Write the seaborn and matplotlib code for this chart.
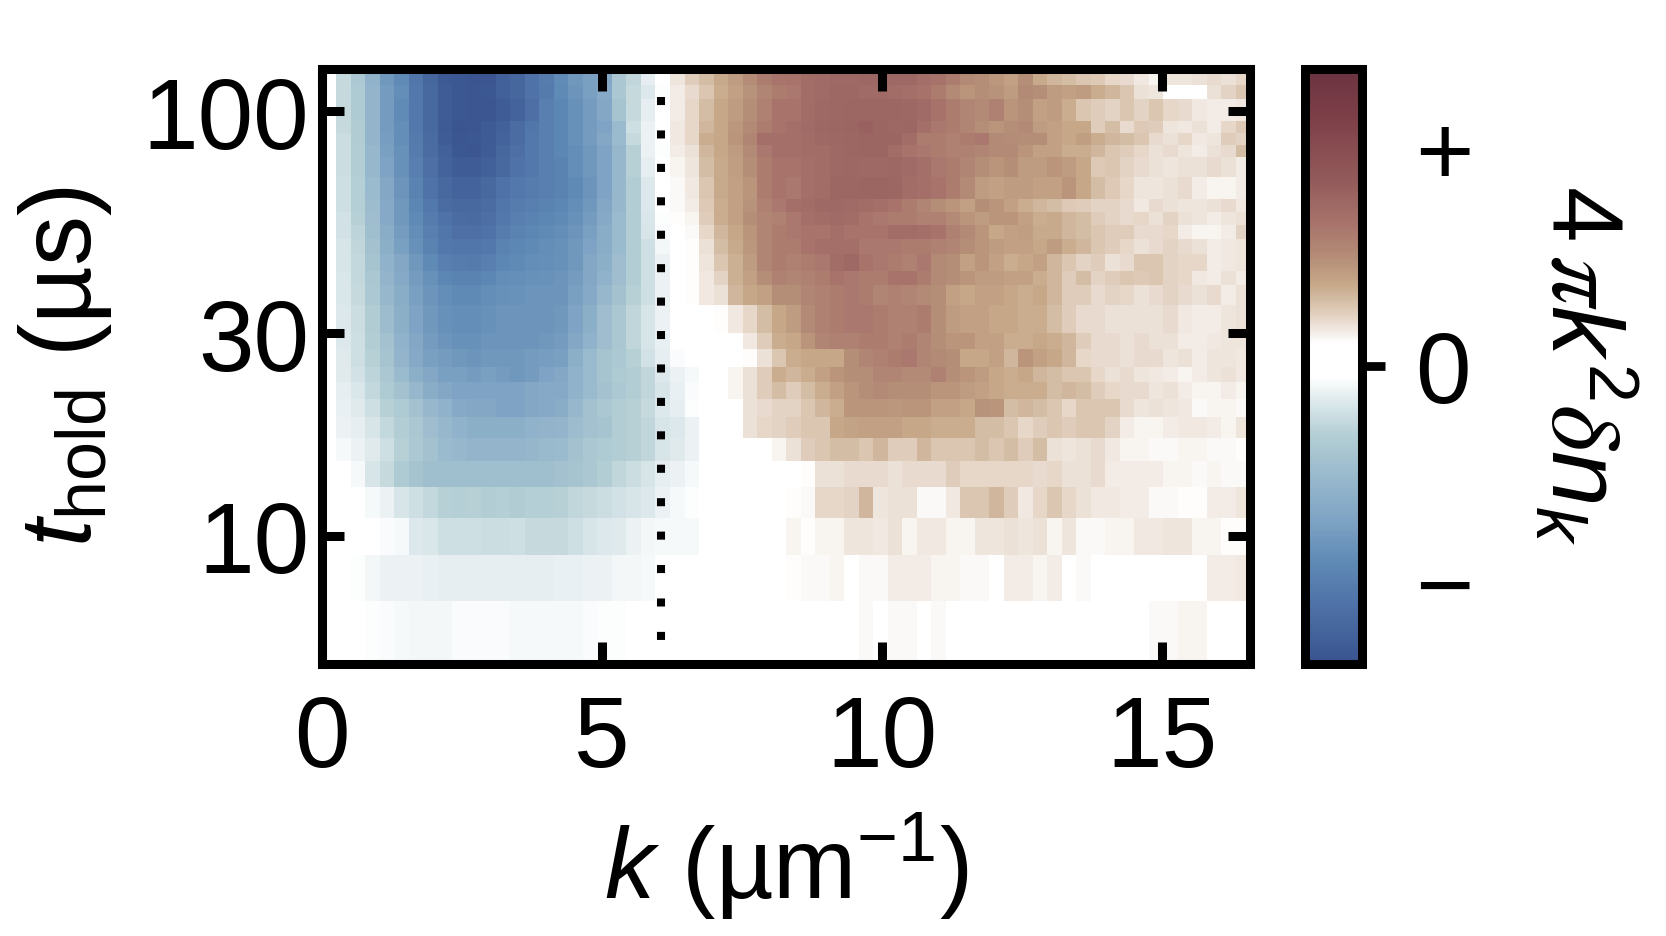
import numpy as np
import pandas as pd
import matplotlib
matplotlib.use('Agg')
import matplotlib.pyplot as plt
from matplotlib.colors import LinearSegmentedColormap
import seaborn as sns

# hold time bin edges (us), top row first
hold_edges = [126, 115, 107, 95, 89, 83, 78, 70, 62, 58, 54, 50, 46, 42, 39, 35, 30, 27.5,
              25, 23, 21, 19, 17, 15, 13, 11, 9, 7, 5]
k_max = 16.58
k_dotted = 6.06

# 4 pi k^2 dn_k, 64 k bins per row, arb. units (-100..100)
row_00 = [0,-18,-27,-42,-58,-66,-78,-88,-96,-97,-99,-98,-92,-88,-80,-74,
          -65,-58,-54,-50,-28,-20,-10,-3,13,18,22,27,32,37,44,47,
          48,52,53,54,54,55,55,54,54,50,49,44,38,36,33,30,
          36,27,24,22,20,19,16,15,12,10,13,13,14,15,14,16]
row_01 = [0,-18,-26,-40,-56,-64,-76,-86,-94,-97,-98,-97,-92,-88,-80,-75,
          -66,-60,-54,-48,-28,-18,-12,-4,11,15,20,26,30,35,40,44,
          46,52,53,55,55,53,53,52,50,49,44,38,34,36,35,32,
          38,36,32,30,32,26,24,20,14,13,6,2,2,14,17,20]
row_02 = [0,-18,-26,-40,-56,-65,-76,-86,-94,-97,-98,-98,-94,-90,-82,-72,
          -68,-62,-56,-50,-30,-18,-10,-3,11,16,22,28,32,36,42,48,
          48,52,54,55,56,56,56,56,55,53,49,44,40,38,42,34,
          36,30,32,26,20,18,17,20,17,20,16,15,12,11,11,12]
row_03 = [0,-18,-25,-40,-56,-64,-76,-86,-95,-99,-98,-95,-92,-84,-78,-72,
          -68,-62,-56,-52,-36,-16,-8,-2,12,16,24,28,33,38,44,48,
          50,53,55,56,57,58,57,55,56,50,46,44,40,36,34,36,
          38,32,30,28,28,18,22,15,19,18,13,12,14,11,16,19]
row_04 = [0,-17,-25,-40,-55,-64,-75,-85,-94,-98,-97,-95,-90,-84,-76,-72,
          -68,-62,-56,-50,-36,-18,-8,-3,12,16,26,28,34,40,50,50,
          50,52,54,55,56,57,57,57,52,44,44,42,44,46,38,37,
          36,36,30,28,31,26,24,22,20,15,14,16,12,13,18,17]
row_05 = [0,-17,-24,-38,-54,-62,-74,-84,-92,-97,-98,-94,-88,-82,-76,-72,
          -68,-64,-58,-52,-38,-22,-8,-4,11,14,24,28,32,38,46,50,
          50,52,52,54,56,57,57,52,48,46,44,42,42,40,38,38,
          34,30,30,26,26,24,20,18,16,14,15,13,11,14,15,22]
row_06 = [0,-17,-24,-38,-52,-62,-72,-82,-90,-94,-94,-92,-86,-80,-76,-72,
          -70,-64,-58,-52,-38,-22,-10,-3,10,13,22,27,31,36,44,48,
          48,50,52,54,55,54,54,55,53,50,46,44,40,36,34,36,
          32,32,34,32,28,19,20,17,15,14,13,14,14,15,14,11]
row_07 = [0,-16,-23,-36,-50,-60,-70,-80,-86,-90,-90,-86,-80,-76,-74,-72,
          -70,-66,-60,-52,-38,-24,-12,-3,9,12,20,27,30,34,44,48,
          46,50,52,56,56,57,57,56,52,50,48,44,38,32,30,32,
          32,30,30,34,28,22,19,16,13,13,14,15,11,10,10,11]
row_08 = [0,-16,-23,-35,-48,-58,-68,-76,-84,-86,-86,-84,-78,-74,-72,-70,
          -68,-64,-58,-50,-38,-24,-12,-3,9,11,19,26,30,35,42,46,
          50,52,54,54,53,52,50,48,44,40,36,34,30,36,34,30,
          26,24,22,19,18,17,17,15,12,15,14,13,13,14,15,12]
row_09 = [0,-15,-22,-34,-48,-58,-66,-74,-80,-84,-85,-82,-76,-72,-70,-68,
          -66,-62,-56,-48,-36,-24,-13,-4,8,10,18,26,30,36,40,42,
          46,50,52,53,52,48,46,44,44,42,42,38,34,32,34,34,
          30,26,27,24,22,18,17,15,16,14,17,14,13,11,13,14]
row_10 = [0,-15,-21,-33,-46,-56,-64,-72,-78,-82,-82,-80,-74,-70,-68,-66,
          -64,-60,-54,-46,-36,-24,-14,-5,5,9,16,24,28,34,40,44,
          46,48,47,50,48,48,48,52,52,50,48,42,38,34,28,30,
          31,27,27,24,22,20,18,18,15,15,16,11,10,10,11,17]
row_11 = [0,-14,-20,-32,-44,-54,-62,-70,-76,-78,-78,-76,-70,-68,-66,-64,
          -62,-58,-52,-46,-36,-24,-16,-7,3,8,14,22,27,33,40,44,
          44,48,50,50,50,46,46,46,44,44,42,40,36,34,32,30,
          30,28,32,26,24,20,18,16,14,15,17,15,14,11,12,13]
row_12 = [0,-14,-19,-30,-42,-50,-58,-66,-72,-74,-75,-72,-68,-66,-64,-63,
          -62,-58,-50,-44,-34,-24,-16,-8,0,8,13,20,25,32,40,44,
          42,44,46,52,54,48,46,44,42,46,38,36,30,34,30,26,
          28,30,24,20,17,18,14,15,20,20,17,16,16,11,12,13]
row_13 = [0,-13,-19,-28,-40,-48,-56,-62,-68,-70,-70,-68,-64,-63,-62,-61,
          -60,-56,-50,-42,-34,-24,-16,-8,0,8,12,17,25,30,36,42,
          40,42,44,48,46,44,44,48,48,44,38,36,34,32,32,30,
          30,26,24,18,22,17,18,20,19,20,17,16,12,11,14,11]
row_14 = [0,-13,-18,-27,-38,-46,-54,-60,-64,-66,-66,-64,-62,-61,-60,-60,
          -60,-54,-48,-38,-32,-22,-16,-8,0,8,12,14,24,28,30,36,
          36,40,42,44,46,44,40,42,40,38,36,30,28,30,30,28,
          26,28,24,18,18,15,17,16,14,15,17,15,14,15,11,14]
row_15 = [0,-12,-17,-25,-35,-44,-52,-58,-62,-64,-64,-62,-60,-60,-60,-60,
          -58,-52,-44,-34,-28,-20,-14,-8,0,0,3,8,12,16,22,28,
          32,38,42,44,46,46,44,42,42,44,36,32,30,30,28,28,
          26,26,22,18,15,15,14,14,14,14,15,12,11,11,13,14]
row_16 = [0,-12,-16,-24,-32,-42,-50,-56,-60,-62,-62,-60,-60,-60,-60,-58,
          -56,-50,-42,-34,-28,-20,-14,-9,-2,0,0,3,6,12,18,26,
          28,34,40,42,42,44,44,42,44,40,36,34,34,30,30,26,
          26,28,26,24,18,15,15,14,15,14,14,11,11,12,13,13]
row_17 = [0,-11,-16,-22,-30,-40,-48,-54,-56,-58,-60,-58,-58,-58,-56,-55,
          -54,-44,-36,-30,-27,-22,-15,-10,-5,-1,0,0,4,8,14,20,
          26,28,28,28,36,40,42,44,46,40,38,36,28,28,30,24,
          34,30,28,24,16,15,15,14,15,15,13,14,11,13,13,12]
row_18 = [0,-11,-15,-21,-28,-36,-44,-50,-54,-54,-56,-54,-56,-58,-56,-52,
          -50,-42,-36,-30,-26,-24,-20,-12,-8,-6,-3,0,10,14,18,26,
          24,26,30,34,36,36,40,40,38,38,42,36,34,32,28,26,
          28,24,22,20,20,16,14,15,13,12,11,10,11,13,14,12]
row_19 = [0,-10,-13,-19,-26,-32,-38,-46,-50,-52,-52,-52,-52,-52,-50,-48,
          -48,-42,-36,-32,-27,-24,-20,-14,-9,-5,-2,4,10,14,18,22,
          18,22,26,30,34,36,38,36,36,36,34,34,32,30,28,26,
          26,26,22,24,22,18,16,15,15,13,14,11,10,10,11,10]
row_20 = [0,-9,-11,-16,-22,-26,-32,-38,-42,-48,-50,-50,-52,-52,-50,-48,
          -46,-38,-32,-28,-24,-22,-18,-12,-10,-4,0,0,1,14,15,17,
          17,20,24,26,34,34,34,33,34,34,30,30,28,35,34,22,
          24,22,20,16,20,20,20,15,13,14,13,12,9,10,10,9]
row_21 = [0,-8,-10,-14,-19,-24,-28,-34,-38,-42,-44,-44,-44,-44,-42,-41,
          -40,-35,-32,-30,-24,-22,-20,-14,-12,-8,0,0,2,14,16,17,
          18,20,20,28,29,30,30,30,28,28,26,26,26,22,22,20,
          16,18,20,18,20,20,17,11,10,10,11,12,12,11,10,13]
row_22 = [0,-6,-8,-11,-16,-22,-27,-32,-36,-38,-40,-40,-40,-40,-39,-37,
          -36,-32,-28,-26,-24,-22,-20,-14,-11,-8,0,0,0,2,4,10,
          14,18,20,22,22,20,24,18,18,24,20,20,20,22,20,22,
          18,22,14,13,14,15,12,10,10,9,9,10,10,9,9,8]
row_23 = [0,-3,-6,-14,-18,-26,-30,-33,-33,-33,-33,-33,-33,-33,-33,-33,
          -32,-30,-28,-24,-20,-17,-14,-10,-8,-6,0,0,0,0,0,3,
          3,8,14,14,15,15,15,14,15,15,15,18,16,16,16,16,
          16,15,16,14,14,15,11,11,11,11,10,10,9,10,9,9]
row_24 = [0,-2,-3,-6,-8,-14,-16,-19,-22,-23,-22,-24,-23,-25,-23,-23,
          -22,-20,-18,-17,-15,-14,-12,-8,-6,-4,0,0,0,0,3,3,
          8,9,16,16,17,24,13,14,14,9,9,12,20,20,24,18,
          12,16,20,16,14,12,12,11,11,9,9,8,8,11,11,13]
row_25 = [0,0,-1,-3,-5,-6,-12,-13,-16,-16,-16,-17,-17,-16,-18,-18,
          -18,-16,-14,-12,-11,-8,-7,-6,-6,-6,-3,-1,0,0,0,0,
          10,8,10,10,13,13,12,14,10,12,12,10,10,13,13,14,
          13,14,10,13,9,9,10,10,12,12,13,13,10,10,8,8]
row_26 = [0,0,-4,-7,-8,-8,-8,-9,-10,-10,-10,-10,-10,-10,-10,-10,
          -9,-9,-8,-8,-7,-7,-6,0,0,0,0,0,0,0,0,0,
          8,9,9,10,0,9,9,11,11,11,10,10,9,9,0,11,
          11,10,11,0,9,0,0,0,0,0,0,0,0,11,11,12]
row_27 = [0,0,0,-4,-5,-6,-7,-7,-7,-5,-5,-5,-5,-6,-6,-6,
          -6,-6,-5,-4,-4,0,0,0,0,0,0,0,0,0,0,0,
          0,0,0,0,0,9,0,9,9,0,9,0,0,0,0,0,
          0,0,0,0,0,0,0,0,0,9,9,10,10,0,0,0]

rows = [row_00, row_01, row_02, row_03, row_04, row_05, row_06, row_07, row_08, row_09,
        row_10, row_11, row_12, row_13, row_14, row_15, row_16, row_17, row_18, row_19,
        row_20, row_21, row_22, row_23, row_24, row_25, row_26, row_27]

sns.set_style('white')
plt.rcParams['font.family'] = ['Liberation Sans', 'DejaVu Sans']
plt.rcParams['text.color'] = 'k'
plt.rcParams['axes.labelcolor'] = 'k'
plt.rcParams['xtick.color'] = 'k'
plt.rcParams['ytick.color'] = 'k'
plt.rcParams['mathtext.fontset'] = 'custom'
plt.rcParams['mathtext.rm'] = 'Liberation Sans'
plt.rcParams['mathtext.it'] = 'Liberation Sans:italic'
plt.rcParams['mathtext.bf'] = 'STIXGeneral:italic'  # only for the curly pi and delta
plt.rcParams['mathtext.default'] = 'regular'

# colormap picked from the colorbar
cmap = LinearSegmentedColormap.from_list('dn', [
    (0.000, '#3a5490'), (0.099, '#4f72a8'), (0.170, '#5f8ab5'), (0.241, '#7fa4c4'),
    (0.312, '#98b8cc'), (0.383, '#b3ced4'), (0.447, '#e3ecef'), (0.482, '#ffffff'),
    (0.539, '#ffffff'), (0.560, '#f1e9e2'), (0.596, '#ddc9b6'), (0.638, '#c6a888'),
    (0.688, '#b38b76'), (0.738, '#a8746c'), (0.816, '#925a5a'), (0.915, '#7e4049'),
    (1.000, '#6a3340')])

W, H = 1666, 937
fig = plt.figure(figsize=(W / 100, H / 100), dpi=100)
pos = [321.7 / W, 1 - 664.5 / H, (1250.5 - 321.7) / W, (664.5 - 69.5) / H]
ax = fig.add_axes(pos)
cax = fig.add_axes([1305 / W, 1 - 664.5 / H, 57 / W, (664.5 - 69.5) / H])

df = pd.DataFrame(rows, index=hold_edges[:-1])
sns.heatmap(df, ax=ax, cbar_ax=cax, cmap=cmap, vmin=-100, vmax=100,
            xticklabels=False, yticklabels=False)

# row index -> log hold time, so the unequal bins land where they should
idx = np.arange(len(hold_edges))
log_t = -np.log10(hold_edges)
ax.set_yscale('function', functions=(lambda i: np.interp(i, idx, log_t),
                                     lambda v: np.interp(v, log_t, idx)))
ax.set_ylim(len(rows), 0)
ax.set_xlim(0, 64)
ax.axis('off')

# overlay with the real k / t axes
top = fig.add_axes(pos, facecolor='none')
top.set_xlim(0, k_max)
top.set_yscale('log')
top.set_ylim(hold_edges[-1], hold_edges[0])
top.plot([k_dotted, k_dotted], [108, 5.68], color='k', lw=5.8,
         linestyle=(0, (1, 3.15)), dash_capstyle='butt')
top.set_xticks([0, 5, 10, 15])
top.set_yticks([10, 30, 100])
top.set_yticklabels(['10', '30', '100'])
top.minorticks_off()
top.tick_params(which='major', direction='in', length=16, width=6.5, labelsize=72,
                top=True, right=True, bottom=True, left=True)
top.tick_params(axis='x', pad=21)
top.tick_params(axis='y', pad=9)
for s in top.spines.values():
    s.set_visible(True)
    s.set_linewidth(6.5)
    s.set_color('k')
top.set_xlabel(r'$\mathit{k}$ (µm$^{-1}$)', fontsize=72)
top.xaxis.set_label_coords(0.5, -0.2455)
top.set_ylabel(r'$\mathit{t}_{hold}$ (µs)', fontsize=72)
top.yaxis.set_label_coords(-0.2236, 0.5)

# colorbar
cbar = ax.collections[0].colorbar
cbar.set_ticks([-72.5, 0, 73.3], labels=['\u2212', '0', '+'])
cax.tick_params(length=16.5, width=6.3, labelsize=72, pad=22, color='k')
for t, show in zip(cax.yaxis.get_major_ticks(), [False, True, False]):
    t.tick2line.set_visible(show)
cbar.outline.set_visible(True)
cbar.outline.set_linewidth(6.5)
cbar.outline.set_edgecolor('k')
cbar.set_label(r'$4\,\mathbf{\pi}\mathit{k}^{2}\mathbf{\delta}\mathit{n}_{\mathit{k}}$', fontsize=72,
               rotation=270)
cax.yaxis.set_label_coords(5.84, 0.503)

fig.savefig('out.png', dpi=100)
